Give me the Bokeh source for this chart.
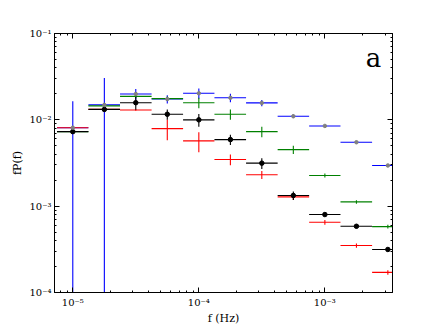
import numpy as np
from bokeh.plotting import figure
from bokeh.models import Range1d, LogAxis, FixedTicker, CustomJSTickFormatter, Label
from bokeh.embed import file_html
from bokeh.resources import INLINE

# bin centres and edges (Hz)
freq = [1.0e-5, 1.78e-5, 3.16e-5, 5.62e-5, 1.0e-4, 1.78e-4, 3.16e-4, 5.62e-4, 1.0e-3, 1.78e-3, 3.16e-3]
f_lo = [7.5e-6, 1.33e-5, 2.37e-5, 4.22e-5, 7.5e-5, 1.33e-4, 2.37e-4, 4.22e-4, 7.5e-4, 1.33e-3, 2.37e-3]
f_hi = [1.33e-5, 2.37e-5, 4.22e-5, 7.5e-5, 1.33e-4, 2.37e-4, 4.22e-4, 7.5e-4, 1.33e-3, 2.37e-3, 4.22e-3]

blue_val = [8.1e-3, 1.49e-2, 1.99e-2, 1.74e-2, 2.03e-2, 1.80e-2, 1.57e-2, 1.10e-2, 8.5e-3, 5.5e-3, 2.96e-3]
blue_err = [8.3e-3, 1.56e-2, 2.8e-3, 1.9e-3, 2.8e-3, 2.0e-3, 1.3e-3, 5e-4, 2e-4, 1e-4, 5e-5]
gray_val = [8.1e-3, 1.49e-2, 1.99e-2, 1.74e-2, 2.03e-2, 1.80e-2, 1.57e-2, 1.10e-2, 8.5e-3, 5.5e-3, 2.96e-3]
green_val = [7.3e-3, 1.45e-2, 1.87e-2, 1.76e-2, 1.58e-2, 1.16e-2, 7.3e-3, 4.52e-3, 2.27e-3, 1.12e-3, 5.8e-4]
green_err = [3e-4, 5e-4, 8e-4, 1e-3, 2.2e-3, 1.6e-3, 1.0e-3, 5e-4, 1.2e-4, 5e-5, 3e-5]
red_val = [8.1e-3, 1.32e-2, 1.30e-2, 7.9e-3, 5.7e-3, 3.47e-3, 2.31e-3, 1.28e-3, 6.5e-4, 3.5e-4, 1.71e-4]
red_err = [3e-4, 3e-4, 3e-4, 2.1e-3, 1.5e-3, 5e-4, 2.5e-4, 1e-4, 4e-5, 2e-5, 1e-5]
black_val = [7.3e-3, 1.32e-2, 1.58e-2, 1.16e-2, 1.0e-2, 5.9e-3, 3.15e-3, 1.33e-3, 8.0e-4, 5.85e-4, 3.15e-4]
black_err = [3e-4, 5e-4, 2.7e-3, 1.6e-3, 1.7e-3, 8e-4, 4.5e-4, 1.5e-4, 4e-5, 3e-5, 1.5e-5]

x_ticks = [1e-5, 1e-4, 1e-3]
y_ticks = [1e-4, 1e-3, 1e-2, 1e-1]

FONT = "DejaVu Serif"

p = figure(width=436, height=327, x_axis_type="log", y_axis_type="log",
           x_range=Range1d(7.16e-6, 3.44e-3), y_range=Range1d(1e-4, 1e-1),
           output_backend="svg", toolbar_location=None,
           min_border_left=54, min_border_right=44, min_border_top=33, min_border_bottom=33)
p.xgrid.visible = False
p.ygrid.visible = False
p.outline_line_color = "black"
p.outline_line_width = 1


def minor(lo, hi):
    return [m * 10.0 ** e for e in range(lo, hi) for m in range(2, 10)]


sup_code = """
const sup = {'-':'\u207b','0':'\u2070','1':'\u00b9','2':'\u00b2','3':'\u00b3','4':'\u2074','5':'\u2075','6':'\u2076','7':'\u2077','8':'\u2078','9':'\u2079'};
const l = Math.log10(tick);
const e = Math.round(l);
return '10' + String(e).split('').map(c => sup[c]).join('');
"""

xt = FixedTicker(ticks=x_ticks, minor_ticks=minor(-7, -1))
yt = FixedTicker(ticks=y_ticks, minor_ticks=minor(-5, 0))


def style(ax, labels=True):
    ax.major_tick_in = 5
    ax.major_tick_out = 0
    ax.minor_tick_in = 2
    ax.minor_tick_out = 0
    ax.axis_line_color = "black"
    ax.major_tick_line_color = "black"
    ax.minor_tick_line_color = "black"
    ax.major_label_text_color = "black"
    ax.axis_label_text_color = "black"
    ax.major_label_text_font = FONT
    ax.major_label_text_font_size = "10px"
    ax.major_label_standoff = 3
    ax.axis_label_text_font = FONT
    ax.axis_label_text_font_size = "11px"
    ax.axis_label_text_font_style = "normal"
    ax.axis_label_standoff = 2
    if labels:
        ax.formatter = CustomJSTickFormatter(code=sup_code)
    else:
        ax.formatter = CustomJSTickFormatter(code="return '';")


p.xaxis.ticker = xt
p.yaxis.ticker = yt
style(p.xaxis[0])
style(p.yaxis[0])
p.xaxis.axis_label = "f (Hz)"
p.yaxis.axis_label = "fP(f)"
p.xaxis.major_label_standoff = 4
p.xaxis.axis_label_standoff = 1

top = LogAxis(ticker=xt)
right = LogAxis(ticker=yt)
style(top, False)
style(right, False)
top.major_label_standoff = 0
right.major_label_standoff = 0
p.add_layout(top, "above")
p.add_layout(right, "right")

f = np.array(freq)
flo = np.array(f_lo)
fhi = np.array(f_hi)


def series(vals, errs, color, marker=None, msize=6):
    v = np.array(vals)
    if errs is not None:
        e = np.array(errs)
        p.segment(x0=f, y0=np.maximum(v - e, 1e-6), x1=f, y1=v + e, line_color=color, line_width=1.1)
    p.segment(x0=flo, y0=v, x1=fhi, y1=v, line_color=color, line_width=1.1)
    if marker:
        p.scatter(x=f, y=v, size=msize, marker="circle", fill_color=color, line_color=color)


series(blue_val, blue_err, "#0000ff")
series(green_val, green_err, "#008000")
series(red_val, red_err, "#ff0000")
series(black_val, black_err, "black", marker=True, msize=4.5)
vg = np.array(gray_val)
p.scatter(x=f, y=vg, size=3.5, marker="circle", fill_color="#808080", line_color="#808080")

p.add_layout(Label(x=319, y=235, x_units="screen", y_units="screen", text="a",
                   text_font=FONT, text_font_size="26px", text_align="center",
                   text_baseline="alphabetic", text_color="black"))

open("out.html", "w").write(file_html(p, INLINE))
